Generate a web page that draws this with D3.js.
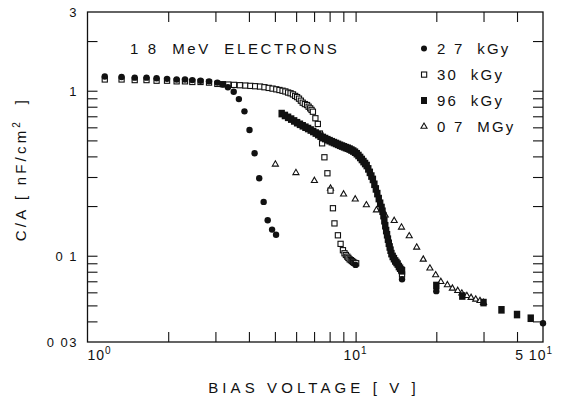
<!DOCTYPE html>
<html>
<head>
<meta charset="utf-8">
<script src="https://cdn.jsdelivr.net/npm/d3@7"></script>
<style>
  body { margin: 0; background: #fff; }
  svg text { font-family: "Liberation Sans", Arial, sans-serif; fill: #111; }
</style>
</head>
<body>
<svg id="chart" width="561" height="401"></svg>
<script>
// 2.7 kGy (filled circles)
const v27 = [1.16, 1.34, 1.50, 1.66, 1.81, 1.98, 2.15, 2.31, 2.46, 2.64, 2.84, 3.05, 3.20, 3.34, 3.51, 3.67, 3.85, 4.02, 4.20, 4.37, 4.54, 4.70, 4.88, 5.05, 10.0, 14.9, 20.0, 50.0];
const c27 = [1.22, 1.21, 1.20, 1.20, 1.19, 1.18, 1.17, 1.17, 1.16, 1.15, 1.14, 1.12, 1.09, 1.05, 0.985, 0.89, 0.75, 0.578, 0.418, 0.295, 0.212, 0.164, 0.144, 0.134, 0.088, 0.072, 0.061, 0.039];

// 30 kGy (open squares)
const v30 = [1.16, 1.34, 1.50, 1.66, 1.81, 1.98, 2.15, 2.31, 2.46, 2.64, 2.84, 3.05, 3.20, 3.35, 3.52, 3.70, 3.88, 4.05, 4.22, 4.40, 4.57, 4.74, 4.90, 5.06, 5.20, 5.34, 5.47, 5.60, 5.72, 5.84, 5.95, 6.05, 6.15, 6.25, 6.35, 6.47, 6.59, 6.68, 6.77, 6.85, 6.93, 7.08, 7.23, 7.36, 7.50, 7.65, 7.85, 8.06, 8.23, 8.34, 8.59, 8.79, 8.97, 9.09, 9.20, 9.31, 9.40, 9.50, 9.60, 9.69, 9.78, 9.86, 9.95, 10.05, 14.9];
const c30 = [1.17, 1.17, 1.16, 1.16, 1.15, 1.15, 1.14, 1.14, 1.13, 1.13, 1.12, 1.10, 1.095, 1.09, 1.085, 1.08, 1.075, 1.07, 1.065, 1.06, 1.05, 1.04, 1.03, 1.02, 1.01, 1.0, 0.99, 0.975, 0.965, 0.95, 0.93, 0.915, 0.895, 0.87, 0.846, 0.83, 0.819, 0.80, 0.782, 0.765, 0.746, 0.681, 0.629, 0.55, 0.48, 0.395, 0.316, 0.248, 0.194, 0.157, 0.133, 0.118, 0.108, 0.1035, 0.101, 0.0987, 0.097, 0.0951, 0.094, 0.0929, 0.0918, 0.0907, 0.0903, 0.090, 0.077];

// 96 kGy (filled squares)
const v96 = [5.30, 5.45, 5.60, 5.75, 5.90, 6.05, 6.20, 6.35, 6.50, 6.65, 6.80, 6.95, 7.10, 7.25, 7.40, 7.55, 7.70, 7.85, 8.00, 8.15, 8.30, 8.45, 8.60, 8.75, 8.90, 9.05, 9.20, 9.35, 9.50, 9.65, 9.80, 9.95, 10.10, 10.25, 10.40, 10.55, 10.70, 10.85, 11.00, 11.15, 11.30, 11.45, 11.60, 11.75, 11.90, 12.05, 12.20, 12.35, 12.50, 12.60, 12.70, 12.80, 12.90, 13.00, 13.10, 13.20, 13.30, 13.40, 13.50, 13.60, 13.75, 13.90, 14.05, 14.20, 14.35, 14.50, 14.65, 14.80, 14.90, 20, 25, 30, 35, 40, 45];
const c96 = [0.727, 0.708, 0.690, 0.673, 0.656, 0.640, 0.626, 0.613, 0.601, 0.590, 0.578, 0.566, 0.554, 0.542, 0.530, 0.521, 0.513, 0.505, 0.498, 0.491, 0.485, 0.479, 0.473, 0.467, 0.462, 0.457, 0.452, 0.448, 0.443, 0.437, 0.431, 0.424, 0.415, 0.405, 0.394, 0.383, 0.372, 0.362, 0.352, 0.336, 0.320, 0.304, 0.290, 0.271, 0.254, 0.238, 0.222, 0.208, 0.196, 0.186, 0.175, 0.163, 0.152, 0.142, 0.134, 0.126, 0.119, 0.113, 0.108, 0.103, 0.099, 0.096, 0.093, 0.091, 0.089, 0.086, 0.084, 0.082, 0.081, 0.066, 0.057, 0.052, 0.047, 0.044, 0.0418];

// 0.7 MGy (open triangles)
const v07 = [5.02, 5.99, 7.02, 8.06, 9.02, 9.97, 10.97, 11.96, 12.9, 13.93, 14.83, 15.85, 16.9, 17.88, 18.93, 19.89, 20.8, 22.0, 22.96, 24.04, 24.9, 26.0, 26.96, 28.06, 29.1, 30.0];
const c07 = [0.358, 0.318, 0.285, 0.256, 0.236, 0.220, 0.203, 0.189, 0.176, 0.163, 0.1486, 0.1316, 0.1124, 0.095, 0.0839, 0.0764, 0.0696, 0.0665, 0.0634, 0.0614, 0.0592, 0.0572, 0.0557, 0.0544, 0.0533, 0.052];

const xTicks = [2, 3, 4, 5, 6, 7, 8, 9, 10, 20, 30, 40];
const yTicks = [2, 1, 0.9, 0.8, 0.7, 0.6, 0.5, 0.4, 0.3, 0.2, 0.1, 0.09, 0.08, 0.07, 0.06, 0.05, 0.04];
const yLabels = [[3, "3"], [1, "1"], [0.1, "0 1"], [0.03, "0 03"]];
const legendLabels = ["2 7  kGy", "30  kGy", "96  kGy", "0 7  MGy"];

const svg = d3.select("#chart");
const x = d3.scaleLog().domain([1, 50]).range([87.5, 543]);
const y = d3.scaleLog().domain([0.03, 3]).range([342, 12]);
const TICK = 10;

// inward ticks on all four sides
function tickAxis(axis, tx, ty) {
    const g = svg.append("g").attr("transform", `translate(${tx},${ty})`).call(axis);
    g.select(".domain").remove();
    g.selectAll("line").attr("stroke", "#111").attr("stroke-width", 1.1);
}
tickAxis(d3.axisBottom(x).tickValues(xTicks).tickSize(-TICK).tickFormat(""), 0, 342);
tickAxis(d3.axisTop(x).tickValues(xTicks).tickSize(-TICK).tickFormat(""), 0, 12);
tickAxis(d3.axisLeft(y).tickValues(yTicks).tickSize(-TICK).tickFormat(""), 87.5, 0);
tickAxis(d3.axisRight(y).tickValues(yTicks).tickSize(-TICK).tickFormat(""), 543, 0);

svg.append("rect")
    .attr("x", 87.5).attr("y", 12)
    .attr("width", 543 - 87.5).attr("height", 342 - 12)
    .attr("fill", "none").attr("stroke", "#111").attr("stroke-width", 1.3);

// y tick labels
svg.selectAll("text.ylab").data(yLabels).enter().append("text")
    .attr("class", "ylab")
    .attr("x", 78).attr("y", d => y(d[0]) + 5)
    .attr("text-anchor", "end")
    .style("font-size", "13px")
    .style("letter-spacing", "1.5px")
    .text(d => d[1]);

// x tick labels (powers of ten)
function xLabel(xpos, anchor, pre, sup) {
    const t = svg.append("text")
        .attr("x", xpos).attr("y", 360)
        .attr("text-anchor", anchor)
        .style("font-size", "14px")
        .style("letter-spacing", "1px");
    t.append("tspan").text(pre);
    t.append("tspan").attr("dy", -6).style("font-size", "10px").text(sup);
}
xLabel(x(1), "start", "10", "0");
xLabel(x(10), "middle", "10", "1");
xLabel(553, "end", "5 10", "1");

// axis titles
svg.append("text")
    .attr("x", 314).attr("y", 393)
    .attr("text-anchor", "middle")
    .style("font-size", "15px")
    .style("letter-spacing", "4.1px")
    .style("white-space", "pre")
    .text("BIAS VOLTAGE [ V ]");

const yt = svg.append("text")
    .attr("transform", "translate(26,169) rotate(-90)")
    .attr("text-anchor", "middle")
    .style("font-size", "15px")
    .style("letter-spacing", "3.2px")
    .style("white-space", "pre");
yt.append("tspan").text("C/A [ nF/cm");
yt.append("tspan").attr("dy", -6).style("font-size", "10px").text("2");
yt.append("tspan").attr("dy", 6).text("  ]");

// title
svg.append("text")
    .attr("x", 130).attr("y", 53.5)
    .style("font-size", "15px")
    .style("letter-spacing", "2.6px")
    .style("white-space", "pre")
    .text("1 8  MeV  ELECTRONS");

const plot = svg.append("g");
const ink = "#111";

// draw order: triangles, open squares, filled squares, circles on top
const tri = d3.symbol().type(d3.symbolTriangle).size(16);
plot.selectAll("path.t07").data(d3.zip(v07, c07)).enter().append("path")
    .attr("class", "t07")
    .attr("transform", d => `translate(${x(d[0])},${y(d[1])})`)
    .attr("d", tri)
    .attr("fill", "#fff").attr("stroke", ink).attr("stroke-width", 1.1);

plot.selectAll("rect.s30").data(d3.zip(v30, c30)).enter().append("rect")
    .attr("class", "s30")
    .attr("x", d => x(d[0]) - 2.6).attr("y", d => y(d[1]) - 2.6)
    .attr("width", 5.2).attr("height", 5.2)
    .attr("fill", "#fff").attr("stroke", ink).attr("stroke-width", 1.1);

plot.selectAll("rect.s96").data(d3.zip(v96, c96)).enter().append("rect")
    .attr("class", "s96")
    .attr("x", d => x(d[0]) - 3.2).attr("y", d => y(d[1]) - 3.8)
    .attr("width", 6.4).attr("height", 7.6)
    .attr("fill", ink);

plot.selectAll("circle.c27").data(d3.zip(v27, c27)).enter().append("circle")
    .attr("class", "c27")
    .attr("cx", d => x(d[0])).attr("cy", d => y(d[1]))
    .attr("r", 3.2)
    .attr("fill", ink);

// legend
const lg = svg.append("g");
const rows = [53.5, 80, 105.5, 131.5];
lg.append("circle").attr("cx", 424).attr("cy", rows[0] - 5).attr("r", 3).attr("fill", ink);
lg.append("rect").attr("x", 421.5).attr("y", rows[1] - 8).attr("width", 5.2).attr("height", 5.2)
    .attr("fill", "#fff").attr("stroke", ink).attr("stroke-width", 1.1);
lg.append("rect").attr("x", 421).attr("y", rows[2] - 8.5).attr("width", 6).attr("height", 7).attr("fill", ink);
lg.append("path").attr("transform", `translate(424,${rows[3] - 5})`).attr("d", tri)
    .attr("fill", "#fff").attr("stroke", ink).attr("stroke-width", 1.1);
lg.selectAll("text").data(legendLabels).enter().append("text")
    .attr("x", 437).attr("y", (d, i) => rows[i])
    .style("font-size", "15px")
    .style("letter-spacing", "2.2px")
    .style("white-space", "pre")
    .text(d => d);
</script>
</body>
</html>
